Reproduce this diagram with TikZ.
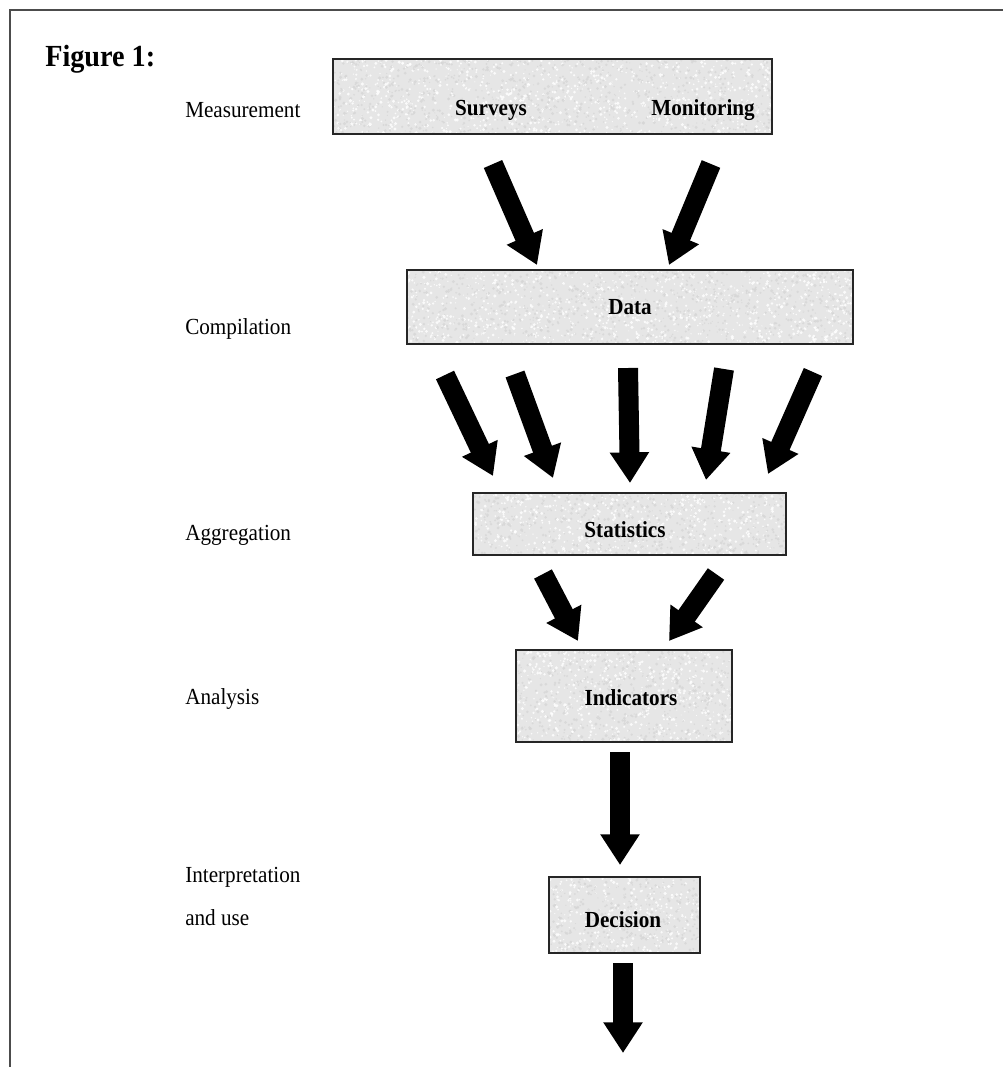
\documentclass[tikz,border=0pt]{standalone}
\usepackage{fontspec}
\setmainfont{Liberation Serif}[FakeStretch=0.92]
\usetikzlibrary{arrows.meta,fit}

% mottled grey fill for the stage boxes
\newcommand\grainfill[5]{%
  \begin{scope}
    \clip (#1,#2) rectangle (#3,#4);
    \fill[boxgray] (#1,#2) rectangle (#3,#4);
    \foreach \k in {1,...,#5}{%
      \pgfmathsetmacro\gx{#1+rnd*(#3-#1)}%
      \pgfmathsetmacro\gy{#2+rnd*(#4-#2)}%
      \pgfmathsetmacro\gs{0.4+rnd*0.9}%
      \pgfmathtruncatemacro\gt{rnd*2}%
      \ifnum\gt=0
        \fill[white, opacity=0.8] (\gx,\gy) circle (\gs pt);
      \else
        \fill[gray!32, opacity=0.8] (\gx,\gy) circle (\gs pt);
      \fi
    }%
  \end{scope}}

\definecolor{boxgray}{HTML}{E6E6E6}

\tikzset{
  stagebox/.style={draw=black!85, line width=1.1pt, inner sep=0pt},
  boxtext/.style={font=\fontsize{17.25}{20}\selectfont\bfseries, anchor=base, inner sep=0pt},
  steplabel/.style={font=\fontsize{17.25}{20}\selectfont, anchor=base west, inner sep=0pt},
  flow/.style={line width=15pt, black, -{Triangle[length=23pt,width=28pt]}}
}

\begin{document}
\begin{tikzpicture}[x=0.75pt, y=-0.75pt]
\useasboundingbox (0,0) rectangle (1003,1067);
\pgfmathsetseed{4242}

% open frame
\draw[black!70, line width=1.5pt] (10,1067) -- (10,10) -- (1003,10);

% title and stage labels
\node[font=\fontsize{23}{26}\selectfont\bfseries, anchor=base west, inner sep=0pt] (title) at (45,66) {Figure 1:};
\node[steplabel] (lmeas) at (185,117) {Measurement};
\node[steplabel] (lcomp) at (185,334) {Compilation};
\node[steplabel] (laggr) at (185,540) {Aggregation};
\node[steplabel] (lanal) at (185,704) {Analysis};
\node[steplabel] (linter) at (185,882) {Interpretation};
\node[steplabel] (luse) at (185,925) {and use};

% boxes
\grainfill{333}{59}{772}{134}{1800}
\node[stagebox, fit={(333,59) (772,134)}] (meas) {};
\grainfill{407}{270}{853}{344}{1800}
\node[stagebox, fit={(407,270) (853,344)}] (data) {};
\grainfill{473}{493}{786}{555}{1100}
\node[stagebox, fit={(473,493) (786,555)}] (stats) {};
\grainfill{516}{650}{732}{742}{1100}
\node[stagebox, fit={(516,650) (732,742)}] (ind) {};
\grainfill{549}{877}{700}{953}{650}
\node[stagebox, fit={(549,877) (700,953)}] (dec) {};

% box texts
\node[boxtext] (surveys) at (491,115) {Surveys};
\node[boxtext] (monit) at (703,115) {Monitoring};
\node[boxtext] (tdata) at (630,314) {Data};
\node[boxtext] (tstats) at (625,537) {Statistics};
\node[boxtext] (tind) at (631,705) {Indicators};
\node[boxtext] (tdec) at (623,927) {Decision};

% arrow ends
\coordinate (m1a) at (493,164); \coordinate (m1b) at (537,265);
\coordinate (m2a) at (711,164); \coordinate (m2b) at (669,265);
\coordinate (d1a) at (445,375); \coordinate (d1b) at (493,476);
\coordinate (d2a) at (515,374); \coordinate (d2b) at (553,478);
\coordinate (d3a) at (628,368); \coordinate (d3b) at (630,483);
\coordinate (d4a) at (724,369); \coordinate (d4b) at (706,480);
\coordinate (d5a) at (813,372); \coordinate (d5b) at (768,474);
\coordinate (s1a) at (543,574); \coordinate (s1b) at (578,641);
\coordinate (s2a) at (716,574); \coordinate (s2b) at (669,641);
\coordinate (i1a) at (620,752); \coordinate (i1b) at (620,865);
\coordinate (e1a) at (623,963); \coordinate (e1b) at (623,1053);

% block arrows
\foreach \a in {m1,m2,d1,d2,d3,d4,d5,s1,s2,i1,e1}
  \draw[flow] (\a a) -- (\a b);
\end{tikzpicture}
\end{document}
